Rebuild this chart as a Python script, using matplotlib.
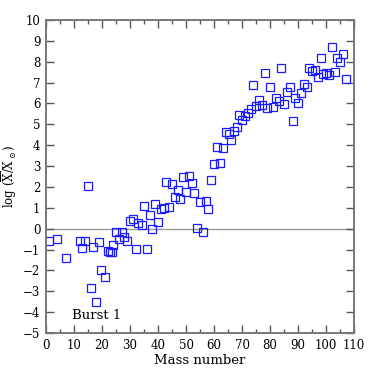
import numpy as np
import matplotlib.pyplot as plt
from matplotlib.ticker import MultipleLocator

plt.rcParams["font.family"] = ["DejaVu Serif"]
plt.rcParams["mathtext.fontset"] = "dejavuserif"

# mass number vs log abundance ratio
mass = [1, 4, 7, 12, 13, 14, 15, 16, 16.7, 18, 19, 19.8, 21, 22, 22.9, 23.4, 24,
        25, 26, 27, 28, 29, 30, 31, 32, 33, 34.2, 35, 36, 37, 38, 39, 40, 41.2,
        42, 43, 44, 45, 46, 47, 48, 48.8, 50, 51, 52, 53, 54, 55, 56, 57, 58,
        59, 60, 61, 62, 63, 64.2, 65.4, 66, 67, 68, 69, 70, 71, 72, 73, 74, 75,
        76, 77, 78, 79, 80, 81, 82, 83, 84, 85, 86, 87, 88, 89, 90, 91, 92, 93,
        94, 95, 96, 97, 98, 99, 100, 101, 102, 103, 104, 105, 106, 107]
logx = [-0.59, -0.51, -1.39, -0.59, -0.94, -0.59, 2.06, -2.83, -0.9, -3.5, -0.66,
        -2.0, -2.33, -1.05, -1.1, -1.1, -0.78, -0.14, -0.51, -0.14, -0.38, -0.61,
        0.38, 0.47, -0.98, 0.27, 0.18, 1.07, -0.96, 0.66, 0.0, 1.16, 0.34, 0.96,
        0.97, 2.24, 1.05, 2.16, 1.52, 1.87, 1.42, 2.46, 1.74, 2.51, 2.2, 1.71,
        0.05, 1.26, -0.14, 1.34, 0.94, 2.33, 3.11, 3.91, 3.16, 3.86, 4.65, 4.55,
        4.25, 4.7, 4.87, 5.45, 5.21, 5.41, 5.52, 5.75, 6.88, 5.88, 6.16, 5.93,
        7.46, 5.79, 6.8, 5.85, 6.24, 6.1, 7.71, 5.99, 6.55, 6.79, 5.17, 6.26,
        6.0, 6.48, 6.95, 6.79, 7.7, 7.56, 7.59, 7.28, 8.16, 7.41, 7.44, 7.38,
        8.71, 7.52, 8.16, 8.0, 8.37, 7.17]

fig = plt.figure(figsize=(3.74, 3.74), dpi=100)
ax = fig.add_axes([0.123, 0.1096, 0.824, 0.837])

ax.axhline(0, color="#999999", lw=1.0, zorder=1)
ax.plot(mass, logx, ls="none", marker="s", ms=5.2, mfc="none",
        mec="#1a1aff", mew=0.9, zorder=2)

ax.set_xlim(0, 110)
ax.set_ylim(-5, 10)
ax.xaxis.set_major_locator(MultipleLocator(10))
ax.xaxis.set_minor_locator(MultipleLocator(5))
ax.yaxis.set_major_locator(MultipleLocator(1))
ax.tick_params(which="both", direction="in", top=True, right=True,
               color="#555555", labelsize=8.5, pad=4)
ax.tick_params(which="major", length=6, width=1)
ax.tick_params(which="minor", length=3, width=1)
for sp in ax.spines.values():
    sp.set_color("#777777")
    sp.set_linewidth(1.4)

ax.set_xlabel("Mass number", fontsize=9.5, labelpad=2)
ax.set_ylabel(r"log $(\overline{\rm X}/{\rm X}_\odot)$", fontsize=8.5, labelpad=3)
ax.text(9.3, -4.15, "Burst 1", fontsize=9.5, va="center", ha="left")

fig.savefig("out.png", dpi=100)
